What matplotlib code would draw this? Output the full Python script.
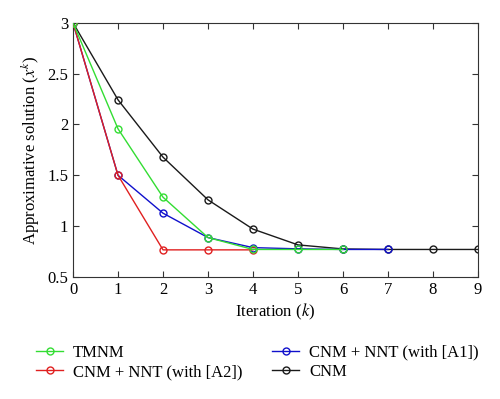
import matplotlib
matplotlib.use("Agg")
import matplotlib.pyplot as plt

k_tmnm = [0, 1, 2, 3, 4, 5, 6]
x_tmnm = [3.0, 1.957, 1.284, 0.887, 0.77, 0.77, 0.77]
k_a2 = [0, 1, 2, 3, 4]
x_a2 = [3.0, 1.5, 0.766, 0.766, 0.766]
k_a1 = [0, 1, 2, 3, 4, 5, 6, 7]
x_a1 = [3.0, 1.5, 1.127, 0.887, 0.788, 0.776, 0.77, 0.77]
k_cnm = [0, 1, 2, 3, 4, 5, 6, 7, 8, 9]
x_cnm = [3.0, 2.242, 1.678, 1.258, 0.97, 0.815, 0.775, 0.77, 0.77, 0.77]

plt.rcParams['font.family'] = ['Liberation Serif', 'DejaVu Serif']
plt.rcParams['mathtext.fontset'] = 'stix'

fig = plt.figure(figsize=(5.0, 3.99), dpi=100)
ax = fig.add_axes([0.146, 0.306, 0.81, 0.637])

ms = 5
lw = 1.0
l_cnm, = ax.plot(k_cnm, x_cnm, color='#1a1a1a', marker='o', mfc='none', ms=ms, lw=lw, label='CNM', zorder=2)
l_a1, = ax.plot(k_a1, x_a1, color='#1010cc', marker='o', mfc='none', ms=ms, lw=lw, label='CNM + NNT (with [A1])', zorder=3)
l_a2, = ax.plot(k_a2, x_a2, color='#e02020', marker='o', mfc='none', ms=ms, lw=lw, label='CNM + NNT (with [A2])', zorder=4)
l_tm, = ax.plot(k_tmnm, x_tmnm, color='#33dd33', marker='o', mfc='none', ms=ms, lw=lw, label='TMNM', zorder=5)

ax.set_xlim(0, 9)
ax.set_ylim(0.5, 3)
ax.set_xticks(range(10))
ax.set_yticks([0.5, 1, 1.5, 2, 2.5, 3])
ax.set_yticklabels(['0.5', '1', '1.5', '2', '2.5', '3'])
ax.tick_params(direction='in', top=True, right=True, labelsize=12, length=4, color='#333333')
for s in ax.spines.values():
    s.set_color('#333333')
ax.set_xlabel('Iteration ($k$)', fontsize=12, labelpad=3)
ax.set_ylabel('Approximative solution ($x^{k}$)', fontsize=12)

fig.legend(handles=[l_tm, l_a2, l_a1, l_cnm], loc='center', bbox_to_anchor=(0.515, 0.092),
           ncol=2, frameon=False, fontsize=12, handlelength=1.6, columnspacing=1.8,
           labelspacing=0.2, handletextpad=0.6)

fig.savefig('out.png', dpi=100)
